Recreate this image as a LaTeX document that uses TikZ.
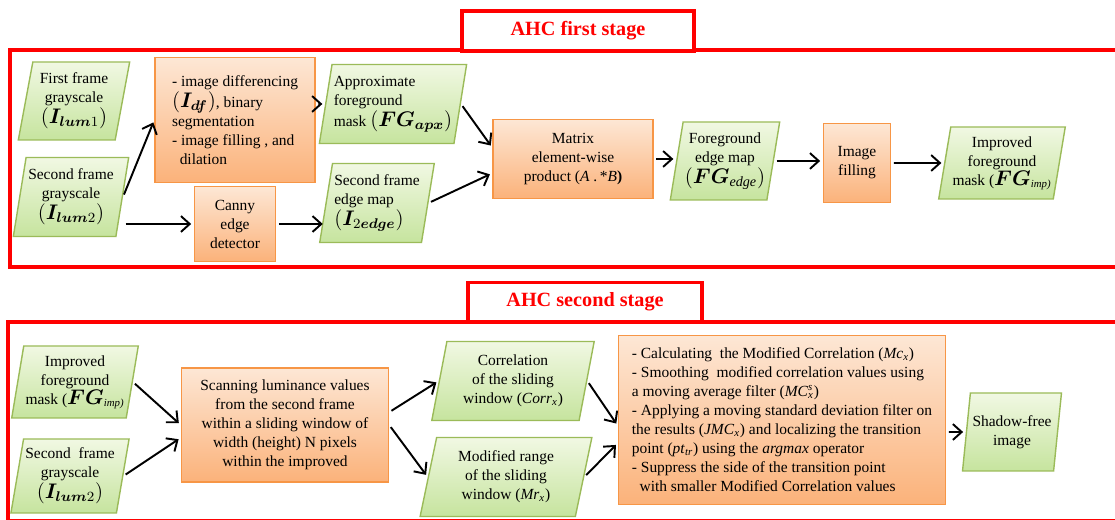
\documentclass[tikz,border=0pt]{standalone}
\usepackage{amsmath}
\usepackage{bm}
\usepackage{fontspec}
\setmainfont{Liberation Serif}
\usetikzlibrary{arrows.meta,shapes.geometric}

\definecolor{grnline}{HTML}{9BBB59}
\definecolor{grntop}{HTML}{F1F8E3}
\definecolor{grnbot}{HTML}{C6E49E}
\definecolor{orgline}{HTML}{F79646}
\definecolor{orgtop}{HTML}{FDE7D5}
\definecolor{orgbot}{HTML}{FBB27A}
\definecolor{stagered}{HTML}{FF0000}

\newcommand{\varlbl}[1]{{\fontsize{11.5}{13}\selectfont$#1$}}

\begin{document}
\begin{tikzpicture}[>={Straight Barb[length=5pt,width=9pt]},
		bodytxt/.style={font=\fontsize{8.8}{10.8}\selectfont},
		datab/.style={bodytxt, trapezium, trapezium left angle=78, trapezium right angle=102,
			trapezium stretches=true, draw=grnline, line width=0.8pt,
			top color=grntop, bottom color=grnbot, align=center, inner sep=1pt},
		procb/.style={bodytxt, rectangle, draw=orgline, line width=0.8pt,
			top color=orgtop, bottom color=orgbot, align=center, inner sep=2pt},
		stagebox/.style={draw=stagered, line width=2pt, fill=white, text=stagered,
			font=\fontsize{11.5}{13}\selectfont\bfseries},
		panel/.style={draw=stagered, line width=2pt},
		flow/.style={->, line width=1.1pt, shorten >=1.5pt, shorten <=1.5pt}]
		\useasboundingbox (0,0) rectangle (22.3,10.4);
		\draw[panel] (22.4, 9.40) -- (0.20, 9.40) -- (0.20, 5.06) -- (22.4, 5.06);
		\draw[panel] (22.4, 3.96) -- (0.16, 3.96) -- (0.16, -0.01) -- (22.4, -0.01);
		\node[stagebox, minimum width=4.64cm, minimum height=0.80cm] (st1) at (11.56, 9.78) {AHC first stage};
		\node[stagebox, minimum width=4.68cm, minimum height=0.78cm] (st2) at (11.70, 4.36) {AHC second stage};
		\node[datab, minimum width=2.24cm, minimum height=1.56cm] (ff) at (1.48, 8.38)
			{First frame\\grayscale\\\varlbl{(\bm{I}_{\bm{lum}1})}};
		\node[datab, minimum width=2.32cm, minimum height=1.58cm] (sf) at (1.42, 6.46)
			{Second frame\\grayscale\\\varlbl{(\bm{I}_{\bm{lum}2})}};
		\node[procb, minimum width=3.20cm, minimum height=2.50cm, align=left] (diff) at (4.70, 8.00)
			{- image differencing\\\varlbl{(\bm{I}_{\bm{df}})}, binary\\segmentation\\- image filling , and\\\ \ dilation};
		\node[procb, minimum width=1.62cm, minimum height=1.50cm] (canny) at (4.70, 5.92)
			{Canny\\edge\\detector};
		\node[datab, minimum width=2.42cm, minimum height=1.58cm, align=left] (apx) at (7.86, 8.32)
			{Approximate\\foreground\\mask \varlbl{(\bm{FG}_{\bm{apx}})}};
		\node[datab, minimum width=2.18cm, minimum height=1.58cm, align=left] (edge2) at (7.54, 6.34)
			{Second frame\\edge map\\\varlbl{(\bm{I}_{2\bm{edge}})}};
		\node[procb, minimum width=3.20cm, minimum height=1.58cm] (prod) at (11.46, 7.22)
			{Matrix\\element-wise\\product (\textit{A} .\,*\textit{B}\textbf{)}};
		\node[datab, minimum width=2.10cm, minimum height=1.56cm] (fgedge) at (14.50, 7.18)
			{Foreground\\edge map\\\varlbl{(\bm{FG}_{\mathit{edge}})}};
		\node[procb, minimum width=1.34cm, minimum height=1.58cm] (fill) at (17.14, 7.14)
			{Image\\filling};
		\node[datab, minimum width=2.40cm, minimum height=1.44cm] (imp) at (20.04, 7.14)
			{Improved\\foreground\\mask (\varlbl{\bm{FG}}\textsubscript{\itshape imp)}};
		\node[datab, minimum width=2.38cm, minimum height=1.44cm] (imp2) at (1.50, 2.76)
			{Improved\\foreground\\mask (\varlbl{\bm{FG}}\textsubscript{\itshape imp)}};
		\node[datab, minimum width=2.26cm, minimum height=1.48cm] (sf2) at (1.40, 0.88)
			{Second~~frame\\grayscale\\\varlbl{(\bm{I}_{\bm{lum}2})}};
		\node[procb, minimum width=4.14cm, minimum height=2.28cm] (scan) at (5.70, 1.90)
			{Scanning luminance values\\from the second frame\\within a sliding window of\\width (height) N pixels\\within the improved};
		\node[datab, minimum width=3.26cm, minimum height=1.58cm] (corr) at (10.26, 2.78)
			{Correlation\\of the sliding\\window (\textit{Corr}\textsubscript{\itshape x})};
		\node[datab, minimum width=3.46cm, minimum height=1.58cm] (mr) at (10.12, 0.86)
			{Modified range\\of the sliding\\window (\textit{Mr}\textsubscript{\itshape x})};
		\node[procb, minimum width=6.54cm, minimum height=3.38cm, align=left] (big) at (15.64, 2.00)
			{- Calculating\ \ the Modified Correlation (\textit{Mc}\textsubscript{\itshape x})\\
			- Smoothing\ \ modified correlation values using\\
			a moving average filter (\textit{MC}\rlap{\textsuperscript{\itshape s}}\textsubscript{\itshape x})\\
			- Applying a moving standard deviation filter on\\
			the results (\textit{JMC}\textsubscript{\itshape x}) and localizing the transition\\
			point (\textit{pt}\textsubscript{\itshape tr}) using the \textit{argmax} operator\\
			- Suppress the side of the transition point\\
			\ \ with smaller Modified Correlation values};
		\node[datab, minimum width=1.98cm, minimum height=1.56cm] (shadow) at (20.24, 1.76)
			{Shadow-free\\image};
		\draw[flow] (sf.east) -- (diff.west);
		\draw[flow] (sf.east |- canny) -- (canny);
		\draw[flow] (diff.east |- apx) -- (apx);
		\draw[flow] (canny.east) -- (canny.east -| edge2.west);
		\draw[flow] (apx.east) -- (prod.172);
		\draw[flow] (edge2.east) -- (prod.190);
		\draw[flow] (prod.east) -- (prod.east -| fgedge.west);
		\draw[flow] (fgedge.east) -- (fgedge.east -| fill.west);
		\draw[flow] (fill) -- (imp);
		\draw[flow] (imp2.east) -- (scan.west);
		\draw[flow] (sf2.east) -- (scan.187);
		\draw[flow] (scan.7) -- (corr.west);
		\draw[flow] (scan.east) -- (mr.west);
		\draw[flow] (corr.east) -- (big.182);
		\draw[flow] (mr.east) -- (big.188);
		\draw[flow] (big.east |- shadow) -- (shadow);
	\end{tikzpicture}
\end{document}
